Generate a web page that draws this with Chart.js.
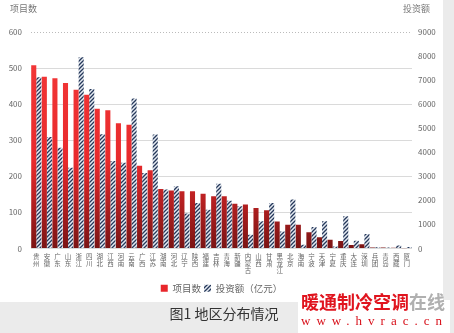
<!DOCTYPE html>
<html>
<head>
<meta charset="utf-8">
<script src="https://cdn.jsdelivr.net/npm/chart.js@4.4.0/dist/chart.umd.min.js"></script>
<style>
  body { margin: 0; width: 454px; height: 333px; background: #ebebeb; position: relative; overflow: hidden;
         font-family: "Noto Sans CJK SC", sans-serif; }
  #panel { position: absolute; left: 0; top: 0; width: 443px; height: 302px; background: #fff; }
  #chart { position: absolute; left: 0; top: 0; }
  .axis-title { position: absolute; top: 3px; font-size: 9px; color: #777; line-height: 12px; }
  #caption { position: absolute; left: 0; width: 448px; top: 303px; text-align: center; font-size: 14px; color: #333; line-height: 20px; }
  #mark { position: absolute; left: 298px; top: 300px; width: 152px; height: 33px; background: #fff; }
  #mark1 { position: absolute; left: 301px; top: 290px; font-size: 18px; font-weight: bold; line-height: 22px; color: #e0141e; white-space: nowrap; }
  #mark1 span { color: #b0b0b0; }
  #mark2 { position: absolute; left: 301px; top: 313px; font-family: "Liberation Serif", serif; font-size: 13px;
           letter-spacing: 6px; color: #d8121c; line-height: 16px; white-space: nowrap; }
</style>
</head>
<body>
<div id="panel"></div>
<canvas id="chart" width="443" height="307"></canvas>
<div class="axis-title" style="left:10px">项目数</div>
<div class="axis-title" style="left:403px">投资额</div>
<div id="caption">图1 地区分布情况</div>
<div id="mark"></div>
<div id="mark1">暖通制冷空调<span>在线</span></div>
<div id="mark2">www.hvrac.cn</div>
<script>
// 地区
var categories = ['贵州', '安徽', '广东', '山东', '浙江', '四川', '湖北', '江西', '河南', '云南', '广西', '江苏',
  '湖南', '河北', '辽宁', '陕西', '福建', '吉林', '青海', '新疆', '内蒙古', '山西', '甘肃', '黑龙江',
  '北京', '海南', '宁波', '天津', '宁夏', '重庆', '大连', '深圳', '兵团', '青岛', '西藏', '厦门'];
// 项目数 (左轴)
var projectCounts = [508, 476, 472, 459, 440, 426, 387, 383, 347, 343, 229, 217,
  165, 161, 159, 159, 152, 145, 145, 124, 122, 112, 106, 75,
  66, 66, 45, 31, 24, 21, 10, 12, 3, 3, 2, 1];
// 投资额 亿元 (右轴)
var investment = [7115, 4640, 4190, 3355, 7950, 6630, 4750, 3635, 3560, 6240, 3135, 4735,
  2450, 2590, 1450, 1890, 1615, 2690, 1990, 1755, 570, 1130, 1890, 710,
  2035, 155, 890, 1130, 80, 1340, 320, 600, 50, 40, 120, 60];
var leftTicks = [0, 100, 200, 300, 400, 500, 600];
var rightTicks = [0, 1000, 2000, 3000, 4000, 5000, 6000, 7000, 8000, 9000];

var canvas = document.getElementById('chart');
var ctx = canvas.getContext('2d');

// 斜线填充
function makeHatch() {
  var c = document.createElement('canvas');
  c.width = 4; c.height = 4;
  var g = c.getContext('2d');
  g.fillStyle = '#e6ebf2';
  g.fillRect(0, 0, 4, 4);
  g.strokeStyle = '#26385a';
  g.lineWidth = 1.3;
  g.beginPath();
  g.moveTo(0, 4); g.lineTo(4, 0);
  g.moveTo(-1, 1); g.lineTo(1, -1);
  g.moveTo(3, 5); g.lineTo(5, 3);
  g.stroke();
  return ctx.createPattern(c, 'repeat');
}
var hatch = makeHatch();

var redGrad = null;
function redFill(context) {
  var area = context.chart.chartArea;
  if (!area) return '#e8262b';
  if (!redGrad) {
    redGrad = context.chart.ctx.createLinearGradient(0, area.top, 0, area.bottom);
    redGrad.addColorStop(0, '#f53a3a');
    redGrad.addColorStop(0.6, '#e82a2c');
    redGrad.addColorStop(1, '#7a1414');
  }
  return redGrad;
}

// 顶部虚线
var dottedTop = {
  id: 'dottedTop',
  beforeDatasetsDraw: function(chart) {
    var y = chart.scales.y.getPixelForValue(leftTicks[leftTicks.length - 1]);
    var c = chart.ctx;
    c.save();
    c.strokeStyle = '#bbbbbb';
    c.lineWidth = 1;
    c.setLineDash([1, 2]);
    c.beginPath();
    c.moveTo(chart.chartArea.left, Math.round(y) + 0.5);
    c.lineTo(chart.chartArea.right, Math.round(y) + 0.5);
    c.stroke();
    c.restore();
  }
};

new Chart(canvas, {
  type: 'bar',
  data: {
    labels: categories.map(function(s) { return s.split(''); }),
    datasets: [{
      label: '项目数',
      data: projectCounts,
      yAxisID: 'y',
      backgroundColor: redFill,
      borderWidth: 0,
      categoryPercentage: 0.96,
      barPercentage: 1.0
    }, {
      label: '投资额（亿元）',
      data: investment,
      yAxisID: 'y1',
      backgroundColor: hatch,
      borderWidth: 0,
      categoryPercentage: 0.96,
      barPercentage: 1.0
    }]
  },
  options: {
    responsive: false,
    animation: false,
    layout: { padding: { top: 32, left: 0, right: 0, bottom: 4 } },
    plugins: {
      tooltip: { enabled: false },
      legend: {
        position: 'bottom',
        labels: {
          boxWidth: 7, boxHeight: 7, padding: 3,
          color: '#666',
          font: { family: 'Noto Sans CJK SC', size: 9.5 },
          generateLabels: function(chart) {
            var items = Chart.defaults.plugins.legend.labels.generateLabels(chart);
            items[0].fillStyle = '#e8262b';
            return items;
          }
        }
      }
    },
    scales: {
      x: {
        offset: true,
        grid: { display: false, drawTicks: false },
        border: { display: false },
        ticks: {
          autoSkip: false, maxRotation: 0, minRotation: 0, padding: 5,
          color: '#666',
          font: { family: 'Noto Sans CJK SC', size: 6.5, lineHeight: 1.05 }
        },
        afterFit: function(s) { s.height = 32; }
      },
      y: {
        position: 'left',
        min: 0, max: 600,
        afterBuildTicks: function(s) { s.ticks = leftTicks.map(function(v) { return { value: v }; }); },
        grid: {
          drawTicks: false,
          color: function(c) { return c.tick && c.tick.value === 600 ? 'rgba(0,0,0,0)' : '#dadada'; }
        },
        border: { display: false },
        ticks: { padding: 9, color: '#666', font: { family: 'Noto Sans CJK SC', size: 8 },
          callback: function(v) { return String(v); } },
        afterFit: function(s) { s.width = 31; }
      },
      y1: {
        position: 'right',
        min: 0, max: 9000,
        afterBuildTicks: function(s) { s.ticks = rightTicks.map(function(v) { return { value: v }; }); },
        grid: { drawOnChartArea: false, drawTicks: false },
        border: { display: false },
        ticks: { padding: 6, color: '#666', font: { family: 'Noto Sans CJK SC', size: 8 },
          callback: function(v) { return String(v); } },
        afterFit: function(s) { s.width = 31; }
      }
    }
  },
  plugins: [dottedTop]
});
</script>
</body>
</html>
